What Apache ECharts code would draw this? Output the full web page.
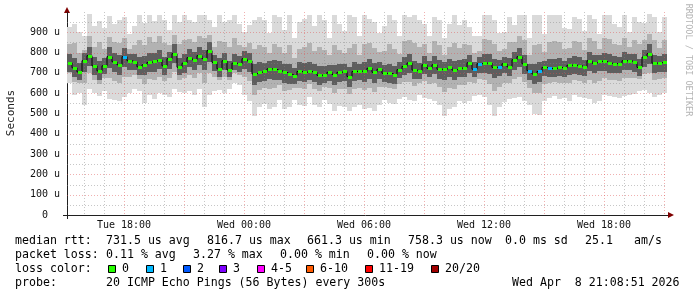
<!DOCTYPE html>
<html><head><meta charset="utf-8">
<script src="https://cdn.jsdelivr.net/npm/echarts@6/dist/echarts.min.js"></script>
<style>html,body{margin:0;padding:0;background:#fff}#c{width:697px;height:297px}</style>
</head><body><div id="c"></div>
<script>
// ---- data (microseconds), 15-minute columns from Tue 15:09 ----
const timeStart = 15.15;   // hours since Tue 00:00
const timeEnd = 45.15;
const stepHours = 0.25;

const med = [750,725,705,760,785,735,710,735,780,755, 740,780,760,755,730,740,752,758,765,735,
 770,795,728,748,775,765,785,770,810,752, 720,760,715,748,745,770,760,695,703,707,
 720,718,711,703,695,687,707,703,707,703, 688,692,703,692,703,707,682,707,709,707,
 723,703,718,698,698,692,716,732,749,714, 711,740,722,740,718,718,727,714,723,725,
 750,718,745,748,748,727,730,745,730,765, 780,745,711,695,707,727,722,722,727,723,
 738,738,736,727,760,748,757,757,748,746, 745,760,760,752,727,778,795,748,750,752];

const loss = [0,0,0,0,0,0,0,0,0,0, 0,1,0,0,0,0,0,0,0,0, 0,0,0,0,0,0,0,0,0,0, 0,0,0,0,0,0,0,0,0,0,
 0,0,0,0,0,0,0,0,0,0, 0,0,0,0,0,0,0,0,0,0, 0,0,0,0,0,0,0,0,0,0, 0,0,0,0,0,0,0,0,0,0,
 0,1,1,0,0,0,1,0,0,0, 0,0,1,0,1,0,1,0,0,0, 0,0,0,0,0,0,0,0,0,0, 0,0,0,0,0,0,0,0,0,0];

const hi1 = [925,940,900,880,990,930,955,920,980,940, 960,975,890,930,985,945,985,955,985,960,
 910,985,950,985,960,950,985,985,960,925, 985,950,960,985,940,900,935,960,975,960,
 895,985,975,910,985,870,950,965,985,930, 985,960,870,985,940,905,985,975,880,985,
 965,950,895,930,985,960,880,985,975,985, 960,940,880,975,960,870,940,985,935,960,
 925,880,880,985,985,960,895,900,975,935, 985,985,870,985,985,890,985,985,985,920,
 915,975,965,905,985,965,890,985,985,940, 925,985,900,975,950,945,990,975,900,975];

const lo1 = [648,589,600,540,620,600,585,610,570,565, 560,580,600,620,610,550,590,570,600,590,
 580,620,605,600,610,590,620,530,590,610, 615,600,620,650,640,590,560,490,530,545,
 520,530,565,520,530,565,540,535,580,540, 530,565,545,510,535,530,510,530,540,520,
 525,510,540,565,550,545,570,580,565,560, 590,575,570,560,540,490,520,530,560,550,
 560,585,590,580,540,490,530,555,570,575, 580,560,540,500,495,560,575,585,570,575,
 560,590,580,575,570,550,560,590,585,580, 575,585,590,595,610,615,600,580,590,600];

const hi2 = [840,845,800,815,880,830,850,820,875,850, 845,870,820,835,860,835,875,850,880,845,
 835,885,840,860,865,850,880,870,885,830, 855,850,830,870,835,830,845,820,835,830,
 800,840,830,800,835,775,820,830,845,810, 830,815,790,835,815,800,825,840,790,840,
 845,825,805,810,840,820,795,855,860,845, 830,840,800,855,835,790,830,845,825,840,
 835,800,810,865,860,840,810,820,850,850, 880,860,790,835,840,805,850,855,850,820,
 825,855,850,815,870,855,820,870,865,840, 835,870,830,860,840,860,890,860,825,860];

const lo2 = [700,655,650,650,700,665,645,675,675,660, 650,680,680,690,670,645,670,665,680,660,
 675,705,665,675,690,675,700,650,700,680, 665,680,665,700,690,680,660,590,615,625,
 620,625,640,610,615,625,625,620,645,620, 610,630,625,600,620,620,595,620,625,615,
 625,605,630,630,625,620,645,655,655,635, 650,660,645,650,630,605,625,620,640,640,
 655,650,670,665,645,610,630,650,650,670, 680,655,625,600,600,645,650,655,650,650,
 650,665,660,650,665,650,660,675,665,665, 660,675,675,675,670,695,700,665,670,675];

const hi3 = [795,775,750,800,830,780,760,775,830,800, 790,825,795,795,780,785,800,800,815,780,
 805,840,775,795,820,805,830,815,850,790, 775,800,760,795,785,810,800,745,755,750,
 760,765,760,745,745,725,755,750,755,745, 735,735,740,740,745,745,730,755,745,755,
 770,750,755,740,745,735,755,780,795,760, 750,785,760,785,765,755,770,760,765,770,
 790,755,780,795,795,770,765,780,775,805, 825,790,745,745,755,760,770,770,775,760,
 775,785,780,765,805,790,790,800,795,785, 780,805,795,795,770,815,840,790,785,795];

const lo3 = [705,680,665,705,735,690,665,695,725,705, 690,730,715,715,690,690,705,705,720,690,
 720,750,690,700,730,715,740,715,755,710, 680,715,680,715,705,720,705,640,655,660,
 670,665,665,650,645,645,660,655,665,655, 640,650,660,640,655,660,630,660,665,655,
 670,650,670,655,650,645,675,690,700,670, 670,695,680,695,670,665,680,665,680,680,
 700,680,700,700,695,675,685,700,685,715, 730,695,665,645,655,685,680,680,685,680,
 690,695,690,685,710,700,710,710,700,700, 700,715,715,705,685,730,745,700,705,705];

const xTickHours = [18, 24, 30, 36, 42];
const xTickLabels = ['Tue 18:00', 'Wed 00:00', 'Wed 06:00', 'Wed 12:00', 'Wed 18:00'];
const yTickValues = [0,100,200,300,400,500,600,700,800,900];
const yTickLabels = ['0  ','100 u','200 u','300 u','400 u','500 u','600 u','700 u','800 u','900 u'];

const lossNames = ['0','1','2','3','4-5','6-10','11-19','20/20'];
const lossColors = ['#26ff00','#00b8ff','#0059ff','#7e00ff','#ff00ff','#ff5a00','#ff0000','#a00000'];

const statsLine1 = [['median rtt:',15],['731.5 us avg',106],['816.7 us max',207],['661.3 us min',307],['758.3 us now',408],['0.0 ms sd',505],['25.1',585],['am/s',634]];
const statsLine2 = [['packet loss:',15],['0.11 % avg',106],['3.27 % max',193],['0.00 % min',280],['0.00 % now',367]];
const statsLine4 = [['probe:',15],['20 ICMP Echo Pings (56 Bytes) every 300s',106],['Wed Apr  8 21:08:51 2026',512]];

// ---- build ----
const times = med.map((_, i) => timeStart + (i + 0.5) * stepHours);
const smokeData = med.map((m, i) => [times[i], lo1[i], hi1[i], lo2[i], hi2[i], lo3[i], hi3[i]]);
const medData = med.map((m, i) => [times[i], m, loss[i]]);
const smokeColors = ['#dadada', '#b2b2b2', '#5e5e5e'];

const gridHours = []; for (let h = 16; h <= 45; h++) gridHours.push([h, h % 3 === 0 ? 1 : 0]);
const gridVals = []; for (let v = 50; v <= 950; v += 50) gridVals.push([v, v % 100 === 0 ? 1 : 0]);
const minorCol = 'rgba(130,130,130,0.45)', majorCol = 'rgba(222,80,80,0.45)';

const MONO = '"DejaVu Sans Mono", monospace';
const txt = (s, x, y, extra) => Object.assign({type:'text', x, y, silent:true,
  style:{text:s, fill:'#000', font:'11.6px ' + MONO, align:'left', verticalAlign:'middle'}}, extra || {});

const graphics = [];
statsLine1.forEach(([s, x]) => graphics.push(txt(s, x, 241)));
statsLine2.forEach(([s, x]) => graphics.push(txt(s, x, 255)));
graphics.push(txt('loss color:', 15, 269));
const boxX = [108, 146, 183, 219, 257, 306, 365, 431];
lossNames.forEach((n, k) => {
  graphics.push({type:'rect', silent:true, shape:{x:boxX[k] + 0.5, y:265.5, width:7, height:7},
    style:{fill:lossColors[k], stroke:'#000', lineWidth:1}});
  graphics.push(txt(n, boxX[k] + 14, 269));
});
statsLine4.forEach(([s, x]) => graphics.push(txt(s, x, 283)));
graphics.push({type:'text', x:11, y:113, rotation:Math.PI/2, silent:true,
  style:{text:'Seconds', fill:'#222', font:'11px ' + MONO, align:'center', verticalAlign:'middle'}});
graphics.push({type:'text', x:688, y:60, rotation:-Math.PI/2, silent:true,
  style:{text:'RRDTOOL / TOBI OETIKER', fill:'#b4b4b4', font:'8.5px ' + MONO, align:'center', verticalAlign:'middle'}});
graphics.push({type:'polygon', silent:true, shape:{points:[[64,13],[70,13],[67,7]]}, style:{fill:'#7f0000'}});
graphics.push({type:'polygon', silent:true, shape:{points:[[668,212],[668,218],[674,215]]}, style:{fill:'#7f0000'}});
graphics.push({type:'line', silent:true, shape:{x1:67.5, y1:219, x2:67.5, y2:12}, style:{stroke:'#202020', lineWidth:1}});
graphics.push({type:'line', silent:true, shape:{x1:63, y1:215.5, x2:668, y2:215.5}, style:{stroke:'#202020', lineWidth:1}});

const chart = echarts.init(document.getElementById('c'), null, {renderer:'canvas'});
chart.setOption({
  animation: false,
  backgroundColor: '#ffffff',
  grid: {left: 67, top: 12, width: 600, height: 203, containLabel: false},
  xAxis: {
    type: 'value', min: timeStart, max: timeEnd,
    axisLine: {show: false}, axisTick: {show: false}, splitLine: {show: false},
    axisLabel: {customValues: xTickHours, formatter: v => xTickLabels[xTickHours.indexOf(v)] || '',
      margin: 5, fontSize: 10, fontFamily: 'DejaVu Sans Mono', color: '#111'}
  },
  yAxis: {
    type: 'value', min: 0, max: 1000, interval: 100,
    axisLine: {show: false}, axisTick: {show: false}, splitLine: {show: false},
    axisLabel: {formatter: v => { const k = yTickValues.indexOf(v); return k >= 0 ? yTickLabels[k] : ''; },
      margin: 7, fontSize: 10, fontFamily: 'DejaVu Sans Mono', color: '#111'}
  },
  graphic: graphics,
  series: [
    {
      type: 'custom', name: 'smoke', z: 2, silent: true,
      encode: {x: 0, y: [1, 2]},
      data: smokeData,
      renderItem(params, api) {
        const t = api.value(0);
        const xa = Math.round(api.coord([t - stepHours / 2, 0])[0]);
        const xb = Math.round(api.coord([t + stepHours / 2, 0])[0]);
        const ch = [];
        for (let k = 0; k < 3; k++) {
          const yl = Math.round(api.coord([t, api.value(1 + 2 * k)])[1]);
          const yh = Math.round(api.coord([t, api.value(2 + 2 * k)])[1]);
          ch.push({type: 'rect', shape: {x: xa, y: yh, width: xb - xa, height: yl - yh}, style: {fill: smokeColors[k]}});
        }
        return {type: 'group', children: ch};
      }
    },
    {
      type: 'custom', name: 'vgrid', z: 3, silent: true,
      encode: {x: 0}, data: gridHours,
      renderItem(params, api) {
        const cs = params.coordSys;
        const x = Math.round(api.coord([api.value(0), 0])[0]) + 0.5;
        return {type: 'line', shape: {x1: x, y1: cs.y, x2: x, y2: cs.y + cs.height},
          style: {stroke: api.value(1) ? majorCol : minorCol, lineWidth: 1, lineDash: [1, 2]}};
      }
    },
    {
      type: 'custom', name: 'hgrid', z: 3, silent: true,
      encode: {y: 0}, data: gridVals,
      renderItem(params, api) {
        const cs = params.coordSys;
        const y = Math.round(api.coord([timeStart, api.value(0)])[1]) + 0.5;
        return {type: 'line', shape: {x1: cs.x, y1: y, x2: cs.x + cs.width, y2: y},
          style: {stroke: api.value(1) ? majorCol : minorCol, lineWidth: 1, lineDash: [1, 2]}};
      }
    },
    {
      type: 'line', name: 'median', z: 4, silent: true, step: 'middle',
      data: medData.map(d => [d[0], d[1]]), symbol: 'none',
      lineStyle: {color: '#000', width: 1}
    },
    {
      type: 'custom', name: 'medianMarks', z: 5, silent: true,
      encode: {x: 0, y: 1}, data: medData,
      renderItem(params, api) {
        const t = api.value(0);
        const xa = Math.round(api.coord([t - stepHours / 2, 0])[0]);
        const xb = Math.round(api.coord([t + stepHours / 2, 0])[0]);
        const y = Math.round(api.coord([t, api.value(1)])[1]);
        return {type: 'rect', shape: {x: xa + 1, y: y - 1, width: xb - xa - 1, height: 3},
          style: {fill: lossColors[api.value(2)]}};
      }
    }
  ]
});
</script></body></html>
